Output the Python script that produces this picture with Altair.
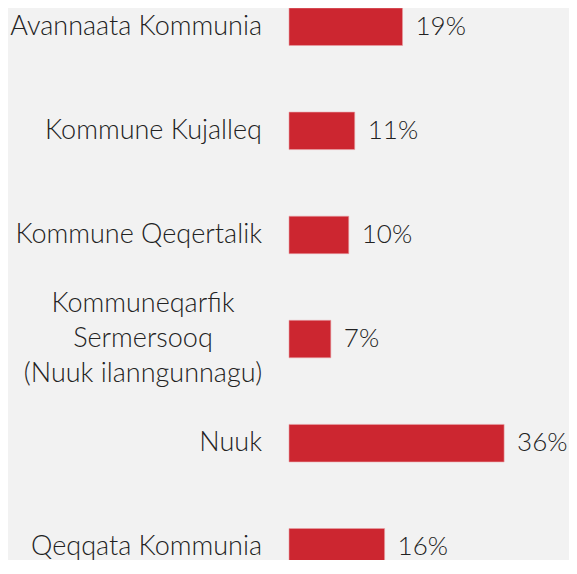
import altair as alt
import pandas as pd

regions = [
    "Avannaata Kommunia",
    "Kommune Kujalleq",
    "Kommune Qeqertalik",
    "Kommuneqarfik\nSermersooq\n(Nuuk ilanngunnagu)",
    "Nuuk",
    "Qeqqata Kommunia",
]
shares = [19, 11, 10, 7, 36, 16]

df = pd.DataFrame({
    "region": regions,
    "share": shares,
})
df["label"] = df["share"].astype(str) + "%"
df["multi"] = df["region"].str.contains("\n")

FONT = "Lato Light, Lato, sans-serif"
RED = "#cc2630"
TXT = "#222222"
FS = 27

y_enc = alt.Y(
    "region:N",
    sort=regions,
    axis=None,
    scale=alt.Scale(range=[0, 558], paddingInner=0.64, paddingOuter=0),
)
x_enc = alt.X("share:Q", axis=None, scale=alt.Scale(domain=[0, 40]))

base = alt.Chart(df)

bars = base.mark_bar(color=RED, stroke="#e8a0a4", strokeWidth=0.6).encode(x=x_enc, y=y_enc)

values = base.mark_text(
    align="left", baseline="middle", dx=13, font=FONT, fontSize=26,
    fontWeight=300, color=TXT,
).encode(x=x_enc, y=y_enc, text="label:N")

labels_single = base.transform_filter("!datum.multi").mark_text(
    align="right", baseline="middle", dx=-27, font=FONT, fontSize=FS,
    fontWeight=300, color=TXT,
).encode(x=alt.value(0), y=y_enc, text="region:N")

labels_multi = base.transform_filter("datum.multi").mark_text(
    align="center", baseline="middle", dx=-146, dy=-35, font=FONT, fontSize=FS,
    fontWeight=300, color=TXT, lineBreak="\n", lineHeight=35,
).encode(x=alt.value(0), y=y_enc, text="region:N")

chart = (
    alt.layer(bars, values, labels_single, labels_multi)
    .properties(
        width=239,
        height=552,
        autosize=alt.AutoSizeParams(type="none"),
        padding={"left": 281, "right": 41, "top": 0, "bottom": 0},
        background="#f2f2f2",
    )
    .configure_view(stroke=None)
)

chart.save("out.html", embed_options={"renderer": "svg", "actions": False})
